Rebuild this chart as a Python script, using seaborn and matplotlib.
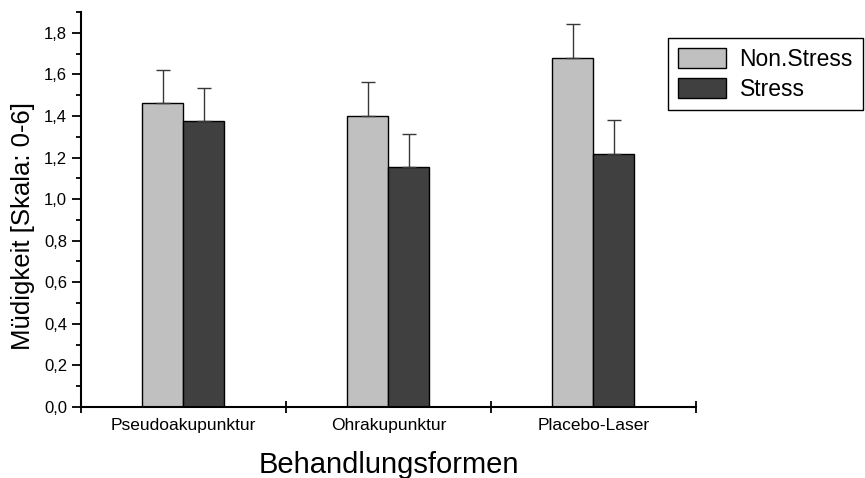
import numpy as np
import seaborn as sns
import matplotlib
matplotlib.use('Agg')
import matplotlib.pyplot as plt
from matplotlib.ticker import MultipleLocator, FuncFormatter, FixedLocator
import pandas as pd

sns.set_style("ticks")
plt.rcParams['font.family'] = ['Liberation Sans', 'DejaVu Sans']

categories = ['Pseudoakupunktur', 'Ohrakupunktur', 'Placebo-Laser']
groups = ['Non.Stress', 'Stress']
non_stress = [1.46, 1.40, 1.68]
stress = [1.375, 1.155, 1.215]
non_stress_err = [0.16, 0.165, 0.16]
stress_err = [0.16, 0.157, 0.167]
colors = ['#c0c0c0', '#404040']


def main():
    df = pd.DataFrame({
        'Behandlung': categories * 2,
        'Gruppe': [groups[0]] * 3 + [groups[1]] * 3,
        'Wert': non_stress + stress,
    })
    errs = [non_stress_err, stress_err]

    fig = plt.figure(figsize=(8.65, 4.78), dpi=100)
    ax = fig.add_axes([0.0936, 0.1485, 0.711, 0.8265])
    sns.barplot(data=df, x='Behandlung', y='Wert', hue='Gruppe',
                order=categories, hue_order=groups, palette=colors,
                width=0.4, edgecolor='black', linewidth=1.0,
                errorbar=None, ax=ax, saturation=1)

    for container, err in zip(ax.containers, errs):
        for bar, e in zip(container, err):
            xc = bar.get_x() + bar.get_width() / 2
            h = bar.get_height()
            ax.errorbar(xc, h, yerr=[[0], [e]], fmt='none', ecolor='#383838',
                        elinewidth=1.0, capsize=5, capthick=1.0, zorder=1)

    ax.set_ylim(0, 1.9)
    ax.set_xlim(-0.5, 2.5)
    ax.yaxis.set_major_locator(MultipleLocator(0.2))
    ax.yaxis.set_minor_locator(MultipleLocator(0.1))
    ax.yaxis.set_major_formatter(FuncFormatter(lambda v, p: f"{v:.1f}".replace('.', ',')))
    ax.xaxis.set_minor_locator(FixedLocator([-0.5, 0.5, 1.5, 2.5]))

    ax.tick_params(axis='y', which='major', direction='out', length=6.5, width=1.3,
                   labelsize=12, pad=3.5, color='black', labelcolor='black')
    ax.tick_params(axis='y', which='minor', direction='out', length=3.8, width=1.3,
                   color='black')
    ax.tick_params(axis='x', which='major', length=0, labelsize=12.5, pad=8,
                   labelcolor='black')
    ax.tick_params(axis='x', which='minor', direction='inout', length=8, width=1.3,
                   color='black')

    for side in ['top', 'right']:
        ax.spines[side].set_visible(False)
    for side in ['left', 'bottom']:
        ax.spines[side].set_linewidth(1.5)
        ax.spines[side].set_color('black')

    ax.set_xlabel('Behandlungsformen', fontsize=21, labelpad=13, color='black')
    ax.set_ylabel('Müdigkeit [Skala: 0-6]', fontsize=18.5, color='black')
    ax.yaxis.set_label_coords(-0.075, 0.457)

    leg = ax.legend(loc='upper left', bbox_to_anchor=(668 / 865, 1 - 38 / 478),
                    bbox_transform=fig.transFigure, borderaxespad=0,
                    fontsize=16.5, frameon=True, fancybox=False,
                    handlelength=2.1, handleheight=1.0, handletextpad=0.6,
                    labelspacing=0.3, borderpad=0.42, labelcolor='black')
    leg.get_frame().set_edgecolor('black')
    leg.get_frame().set_linewidth(1.0)
    leg.get_frame().set_alpha(1)

    fig.savefig('out.png', dpi=100)


if __name__ == "__main__":
    main()
